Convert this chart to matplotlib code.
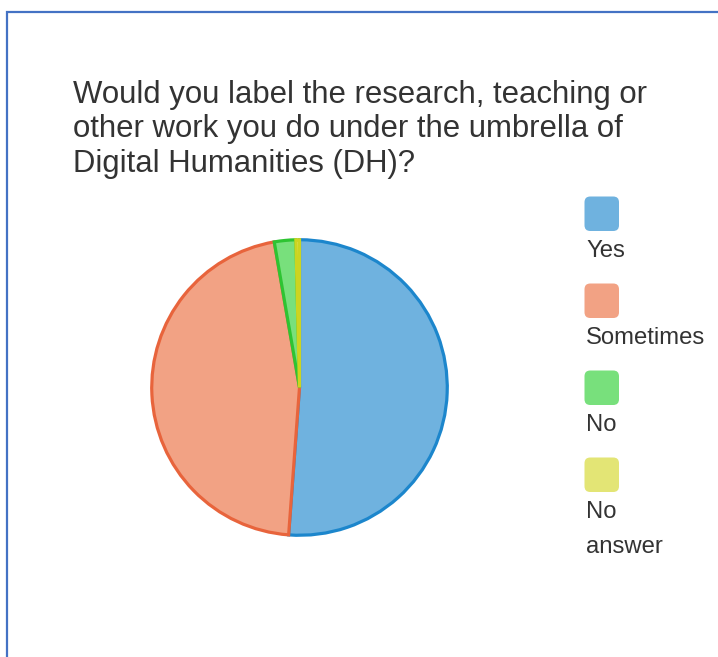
import matplotlib.pyplot as plt
from matplotlib.patches import FancyBboxPatch, Rectangle

W, H = 718, 657
DPI = 100

title_lines = ["Would you label the research, teaching or",
               "other work you do under the umbrella of",
               "Digital Humanities (DH)?"]
categories = ["Yes", "Sometimes", "No", "No answer"]
legend_labels = [["Yes"], ["Sometimes"], ["No"], ["No", "answer"]]
counts = [131, 118, 6, 1]
fill_colors = ["#6FB2DF", "#F2A284", "#78E07C", "#E3E575"]
edge_colors = ["#1C86CC", "#E8643C", "#2EC432", "#CCD420"]

plt.rcParams['font.family'] = ['Liberation Sans', 'DejaVu Sans']

fig = plt.figure(figsize=(W / DPI, H / DPI), dpi=DPI)

def px(x, y):
    return x / W, 1 - y / H

# frame border
fig.patches.append(Rectangle(px(6.5, 760), 800 / W, (760 - 12) / H,
                             transform=fig.transFigure, fill=False,
                             edgecolor="#4472C4", linewidth=1.6, clip_on=False))

# title
for i, line in enumerate(title_lines):
    tx, ty = px(73, 103 + i * 34.5)
    fig.text(tx, ty, line, ha="left", va="baseline", fontsize=22.4, color="#333333")

# pie
cx, cy, r = 299.5, 387.5, 148.5
ax = fig.add_axes([(cx - r) / W, (H - cy - r) / H, 2 * r / W, 2 * r / H])
wedges, _ = ax.pie(counts, colors=fill_colors, startangle=90, counterclock=False,
                   radius=1.0, wedgeprops=dict(linewidth=2.3))
for w, ec in zip(wedges, edge_colors):
    w.set_edgecolor(ec)
ax.set_xlim(-1.005, 1.005)
ax.set_ylim(-1.005, 1.005)
ax.set_aspect("equal")
ax.axis("off")

# legend
lx = 584.5
sw = 34.5
y0 = 196.5
step = 87
for i, (lines, col) in enumerate(zip(legend_labels, fill_colors)):
    top = y0 + i * step
    x0, yb = px(lx, top + sw)
    fig.patches.append(FancyBboxPatch((x0, yb), sw / W, sw / H,
                                      boxstyle="round,pad=0,rounding_size=0.008",
                                      transform=fig.transFigure, facecolor=col,
                                      edgecolor="none", mutation_aspect=W / H))
    for j, line in enumerate(lines):
        txx, tyy = px(lx + 1.5, top + 60.5 + j * 34.7)
        fig.text(txx, tyy, line, ha="left", va="baseline", fontsize=17.2,
                 color="#333333")

fig.savefig("out.png", dpi=DPI)
